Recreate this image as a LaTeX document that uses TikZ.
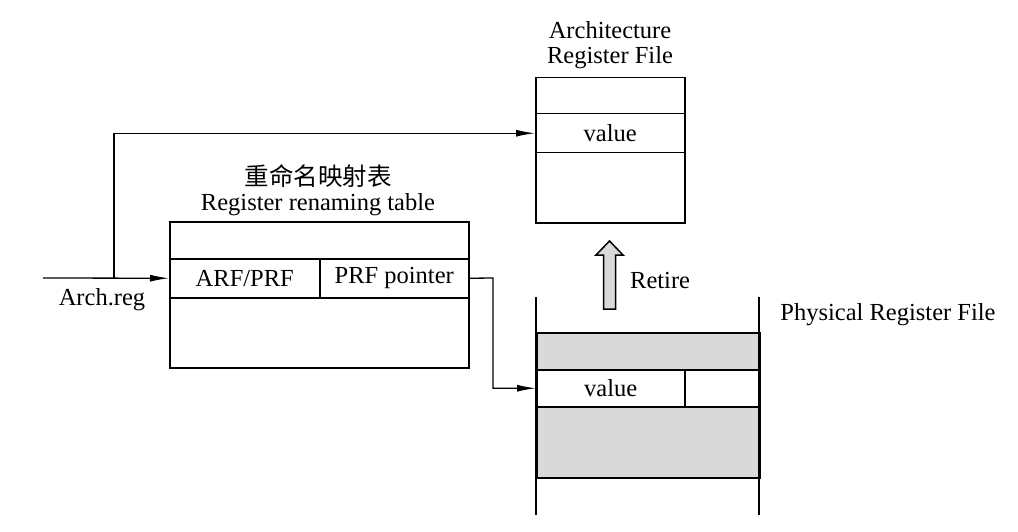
\documentclass[tikz,border=0pt]{standalone}
\usepackage{fontspec}
\setmainfont{Liberation Serif}
\newfontfamily\cjk{Noto Sans CJK SC}
\usetikzlibrary{arrows.meta}
\begin{document}
\begin{tikzpicture}[x=1pt,y=-1pt,
  cell/.style={draw, line width=1.5pt, inner sep=0pt, anchor=north west, font=\fontsize{24.5}{26}\selectfont},
  shade/.style={cell, fill=gray!30},
  lbl/.style={inner sep=0pt, font=\fontsize{24.5}{25}\selectfont, align=center},
  conn/.style={line width=1.3pt, -{Latex[length=19pt,width=7pt]}},
  wire/.style={line width=1.5pt}]
\useasboundingbox (0,0) rectangle (1018,532);
% Architecture Register File
\node[lbl] (arftitle) at (610,45) {Architecture\\Register File};
\node[cell, minimum width=149pt, minimum height=36pt] (arf1) at (535,77) {};
\node[cell, minimum width=149pt, minimum height=39pt] (arfv) at (535,113) {value};
\node[cell, minimum width=149pt, minimum height=70pt] (arf3) at (535,152) {};
% Renaming table
\node[lbl] (rttitle) at (318,190) {{\cjk\fontsize{24.5}{25}\selectfont 重命名映射表}\\Register renaming table};
\node[cell, minimum width=299pt, minimum height=37pt] (rt1) at (169,221) {};
\node[cell, minimum width=150pt, minimum height=39pt] (rtA) at (169,258) {ARF/PRF};
\node[cell, minimum width=149pt, minimum height=39pt] (rtP) at (319,258) {PRF pointer};
\node[cell, minimum width=299pt, minimum height=70pt] (rt3) at (169,297) {};
% Physical register file
\node[lbl] (prftitle) at (888,315) {Physical Register File};
\node[shade, minimum width=223pt, minimum height=37pt] (prf1) at (536,332) {};
\node[cell, minimum width=148pt, minimum height=37pt] (prfv) at (536,369) {value};
\node[cell, minimum width=75pt, minimum height=37pt] (prfv2) at (684,369) {};
\node[shade, minimum width=223pt, minimum height=71pt] (prf2) at (536,406) {};
\coordinate (prfTL) at (536,297);
\coordinate (prfBL) at (536,515);
\coordinate (prfTR) at (759,297);
\coordinate (prfBR) at (759,515);
\draw[wire] (prfTL) -- (prfBL);
\draw[wire] (prfTR) -- (prfBR);
% Retire arrow
\draw[line width=1.5pt, fill=gray!30] (603.5,309) -- (603.5,255) -- (596,255) -- (609.5,241) -- (623,255) -- (615.5,255) -- (615.5,309) -- cycle;
\node[lbl, anchor=west] (retire) at (630,281) {Retire};
% Arch.reg input
\coordinate (in) at (43,278);
\coordinate (br) at (114,278);
\node[lbl] (archreg) at (102,300) {Arch.reg};
\draw[conn] (in) -- (rtA.west);
\draw[conn] (br) |- (arfv.west);
\coordinate (pt) at (493,278);
\draw[conn] (rtP.east) -- (pt) |- (prfv.west);
\end{tikzpicture}
\end{document}
